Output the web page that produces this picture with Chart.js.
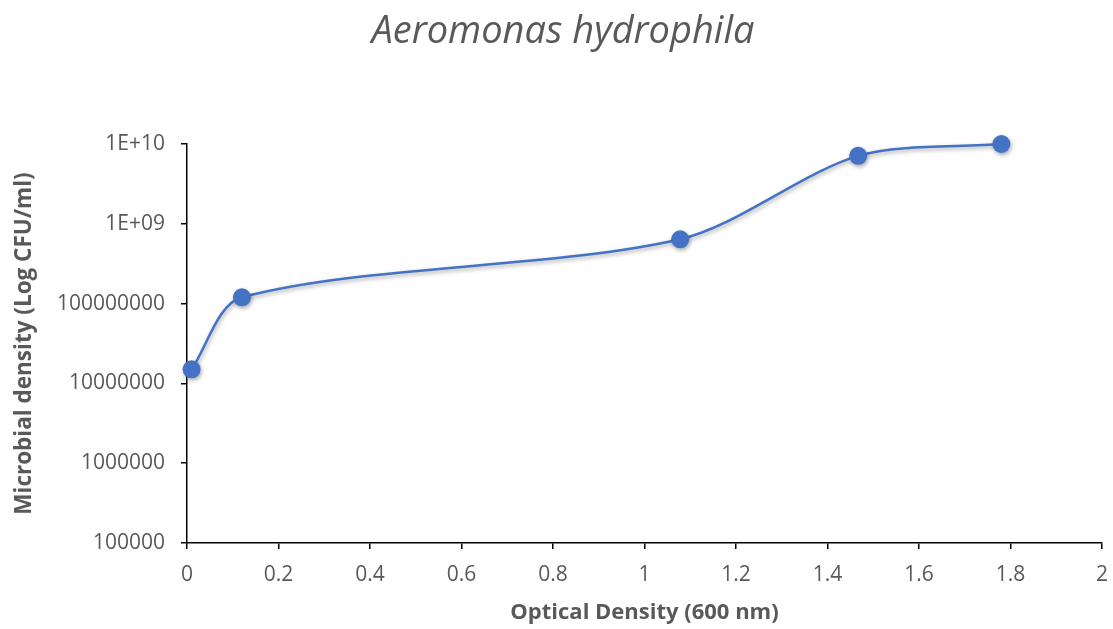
<!DOCTYPE html>
<html>
<head>
<meta charset="utf-8">
<title>Aeromonas hydrophila</title>
<script src="https://cdn.jsdelivr.net/npm/chart.js@4.4.1/dist/chart.umd.min.js"></script>
<style>
  html, body { margin: 0; padding: 0; background: #ffffff; }
  #wrap { position: relative; width: 1113px; height: 629px; }
</style>
</head>
<body>
<div id="wrap"><canvas id="chart"></canvas></div>
<script>
// Optical density (600 nm) readings and the matching cell counts (CFU/ml)
const opticalDensity = [0.01, 0.12, 1.078, 1.467, 1.78];
const cfuPerMl = [1.5e7, 1.2e8, 6.4e8, 7.1e9, 1.0e10];

// Axis ticks
const xTickValues = [0, 0.2, 0.4, 0.6, 0.8, 1, 1.2, 1.4, 1.6, 1.8, 2];
const xTickLabels = ['0', '0.2', '0.4', '0.6', '0.8', '1', '1.2', '1.4', '1.6', '1.8', '2'];
const yTickValues = [1e5, 1e6, 1e7, 1e8, 1e9, 1e10];
const yTickLabels = ['100000', '1000000', '10000000', '100000000', '1E+09', '1E+10'];

const points = opticalDensity.map((x, i) => ({ x: x, y: cfuPerMl[i] }));

const textGrey = '#595959';
const seriesBlue = '#4472C4';
const baseFont = "'Open Sans', 'Noto Sans', 'DejaVu Sans', sans-serif";

// Soft drop shadow under the curve and markers
const shadowPlugin = {
  id: 'seriesShadow',
  beforeDatasetDraw(chart) {
    const ctx = chart.ctx;
    ctx.save();
    ctx.shadowColor = 'rgba(0,0,0,0.35)';
    ctx.shadowBlur = 4;
    ctx.shadowOffsetX = 1;
    ctx.shadowOffsetY = 2;
  },
  afterDatasetDraw(chart) {
    chart.ctx.restore();
  }
};

// Centre the chart title over the plot rather than over the whole canvas
const titleOffsetPlugin = {
  id: 'titleOffset',
  afterLayout(chart) {
    const tb = chart.titleBlock;
    if (tb) {
      tb.left += 24;
      tb.width = tb.right - tb.left;
    }
  }
};

new Chart(document.getElementById('chart'), {
  type: 'scatter',
  data: {
    datasets: [{
      label: 'Aeromonas hydrophila',
      data: points,
      showLine: true,
      tension: 0.3,
      clip: false,
      borderColor: seriesBlue,
      borderWidth: 2.5,
      backgroundColor: seriesBlue,
      pointBackgroundColor: seriesBlue,
      pointBorderColor: seriesBlue,
      pointRadius: 9,
      pointHoverRadius: 9,
      pointBorderWidth: 0
    }]
  },
  options: {
    responsive: true,
    maintainAspectRatio: false,
    animation: false,
    layout: { padding: { left: 0, right: 11, top: 0, bottom: 0 } },
    plugins: {
      legend: { display: false },
      tooltip: { enabled: false },
      title: {
        display: true,
        text: 'Aeromonas hydrophila',
        color: textGrey,
        font: { family: baseFont, size: 38, style: 'italic', weight: 'normal' },
        padding: { top: 9.4, bottom: 89 }
      }
    },
    scales: {
      x: {
        type: 'linear',
        min: 0,
        max: 2,
        afterBuildTicks(scale) {
          scale.ticks = xTickValues.map(v => ({ value: v }));
        },
        afterFit(scale) {
          scale.height = 86;
          scale.paddingLeft = 0;
          scale.paddingRight = 0;
        },
        ticks: {
          padding: 13,
          color: textGrey,
          font: { family: baseFont, size: 21 },
          callback: (v, i) => xTickLabels[i]
        },
        grid: { drawOnChartArea: false, drawTicks: true, tickLength: 6, color: '#000000', lineWidth: 1.5 },
        border: { display: true, color: '#000000', width: 1.5 },
        title: {
          display: true,
          text: 'Optical Density (600 nm)',
          color: textGrey,
          font: { family: baseFont, size: 22, weight: 'bold' },
          padding: { top: 0, bottom: 3 }
        }
      },
      y: {
        type: 'logarithmic',
        min: 1e5,
        max: 1e10,
        afterBuildTicks(scale) {
          scale.ticks = yTickValues.map(v => ({ value: v }));
        },
        afterFit(scale) { scale.width = 187; },
        ticks: {
          padding: 16,
          color: textGrey,
          font: { family: baseFont, size: 21 },
          callback: (v, i) => yTickLabels[i]
        },
        grid: { drawOnChartArea: false, drawTicks: true, tickLength: 6, color: '#000000', lineWidth: 1.5 },
        border: { display: true, color: '#000000', width: 1.5 },
        title: {
          display: true,
          text: 'Microbial density (Log CFU/ml)',
          color: textGrey,
          font: { family: baseFont, size: 22.5, weight: 'bold' },
          padding: { top: 11, bottom: 0 }
        }
      }
    }
  },
  plugins: [shadowPlugin, titleOffsetPlugin]
});
</script>
</body>
</html>
